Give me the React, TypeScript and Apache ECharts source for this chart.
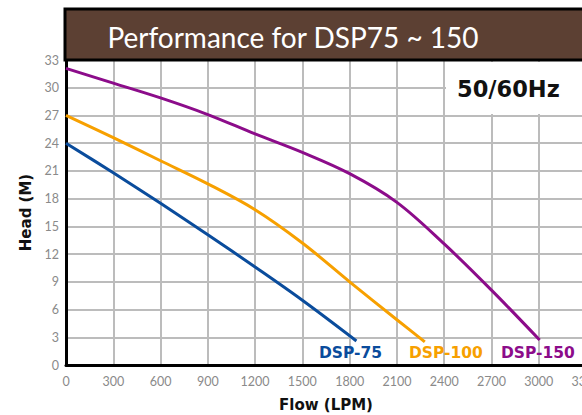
import React, { useEffect, useRef } from "react";
import * as echarts from "echarts";

const flowTicks = [0, 300, 600, 900, 1200, 1500, 1800, 2100, 2400, 2700, 3000, 3300];
const headTicks = [0, 3, 6, 9, 12, 15, 18, 21, 24, 27, 30, 33];

const dsp75Flow = [0, 300, 600, 900, 1200, 1500, 1843];
const dsp75Head = [24, 20.8, 17.5, 14.1, 10.6, 7.0, 2.6];

const dsp100Flow = [0, 300, 600, 900, 1200, 1500, 1800, 2100, 2277];
const dsp100Head = [27, 24.6, 22.1, 19.6, 16.8, 13.2, 9.0, 4.9, 2.5];

const dsp150Flow = [0, 300, 600, 900, 1200, 1500, 1800, 2100, 2400, 2700, 3006];
const dsp150Head = [32.1, 30.5, 28.9, 27.1, 25.0, 23.0, 20.7, 17.6, 13.1, 8.1, 2.7];

const seriesNames = ["DSP-75", "DSP-100", "DSP-150"];
const seriesColors = ["#0a4c9c", "#f7a000", "#8c0c8a"];

const pairs = (xs: number[], ys: number[]) => xs.map((x, i) => [x, ys[i]]);

export default function App() {
  const ref = useRef<HTMLDivElement>(null);
  useEffect(() => {
    if (!ref.current) return;
    const chart = echarts.init(ref.current, null, { renderer: "svg" });
    const tickFont = "Lato, 'Noto Sans', sans-serif";
    const boldFont = "'DejaVu Sans', sans-serif";
    chart.setOption({
      animation: false,
      backgroundColor: "#ffffff",
      grid: { left: 66, right: -4, top: 60, bottom: 50, containLabel: false, outerBoundsMode: "none" },
      xAxis: {
        type: "value",
        min: flowTicks[0],
        max: flowTicks[flowTicks.length - 1],
        interval: 300,
        name: "Flow (LPM)",
        nameLocation: "middle",
        nameGap: 32,
        nameTextStyle: { fontFamily: boldFont, fontWeight: "bold", fontSize: 15, color: "#111" },
        axisLine: { show: true, lineStyle: { color: "#000", width: 3 } },
        axisTick: { show: false },
        axisLabel: {
          color: "#8a8a8a",
          fontSize: 12.5,
          fontFamily: tickFont,
          margin: 10,
          formatter: (v: number) => String(v),
        },
        splitLine: { show: true, lineStyle: { color: "#bcbcbc", width: 2 } },
      },
      yAxis: {
        type: "value",
        min: headTicks[0],
        max: headTicks[headTicks.length - 1],
        interval: 3,
        name: "Head (M)",
        nameLocation: "middle",
        nameGap: 29,
        nameRotate: 90,
        nameTextStyle: { fontFamily: boldFont, fontWeight: "bold", fontSize: 15, color: "#111" },
        axisLine: { show: true, lineStyle: { color: "#000", width: 3 } },
        axisTick: { show: false },
        axisLabel: { color: "#8a8a8a", fontSize: 12.5, fontFamily: tickFont, margin: 7 },
        splitLine: { show: true, lineStyle: { color: "#bcbcbc", width: 2 } },
      },
      series: [
        { name: seriesNames[0], data: pairs(dsp75Flow, dsp75Head) },
        { name: seriesNames[1], data: pairs(dsp100Flow, dsp100Head) },
        { name: seriesNames[2], data: pairs(dsp150Flow, dsp150Head) },
      ].map((s, i) => ({
        ...s,
        type: "line",
        smooth: 0.35,
        showSymbol: false,
        symbol: "none",
        lineStyle: { color: seriesColors[i], width: 3 },
        z: 5,
      })),
      graphic: [
        {
          type: "rect",
          shape: { x: 65, y: 9, width: 530, height: 51 },
          style: { fill: "#5c4033", stroke: "#000", lineWidth: 3 },
          z: 10,
        },
        {
          type: "text",
          x: 293,
          y: 37,
          style: {
            text: "Performance for DSP75 ~ 150",
            fill: "#ffffff",
            font: "28px Lato, 'Noto Sans', sans-serif",
            textAlign: "center",
            textVerticalAlign: "middle",
          },
          z: 11,
        },
        {
          type: "rect",
          shape: { x: 446, y: 62, width: 140, height: 52 },
          style: { fill: "#ffffff" },
          z: 3,
        },
        {
          type: "text",
          x: 457,
          y: 89,
          style: {
            text: "50/60Hz",
            fill: "#111",
            font: "bold 22.5px 'DejaVu Sans', sans-serif",
            textAlign: "left",
            textVerticalAlign: "middle",
          },
          z: 11,
        },
        ...[319, 409, 501].map((x, i) => ({
          type: "text",
          x,
          y: 353,
          style: {
            text: seriesNames[i],
            fill: seriesColors[i],
            font: "bold 15.5px 'DejaVu Sans', sans-serif",
            textAlign: "left",
            textVerticalAlign: "middle",
          },
          z: 11,
        })),
      ],
    });
    return () => chart.dispose();
  }, []);
  return <div ref={ref} style={{ position: "absolute", left: 0, top: 0, width: 582, height: 415 }} />;
}
